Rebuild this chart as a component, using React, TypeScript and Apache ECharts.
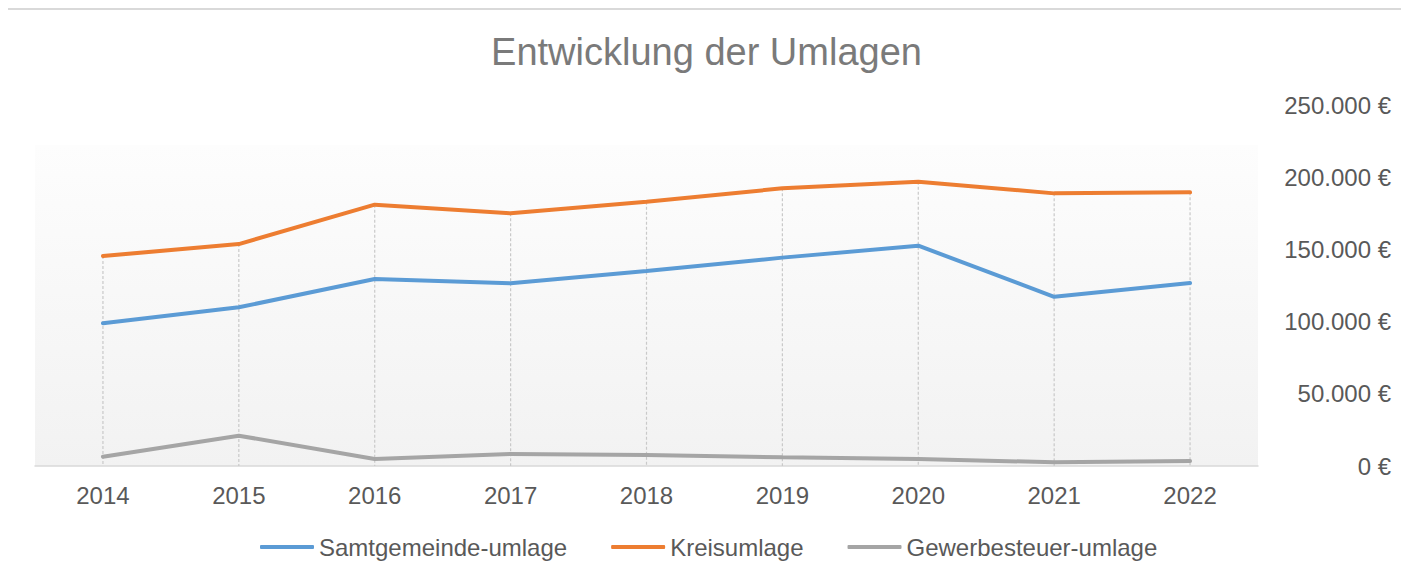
import React, { useEffect, useRef } from "react";
import * as echarts from "echarts";

const years = ["2014", "2015", "2016", "2017", "2018", "2019", "2020", "2021", "2022"];
const samtgemeinde = [98800, 109900, 129500, 126500, 135000, 144300, 152600, 117200, 126700];
const kreisumlage = [145400, 153700, 181000, 175000, 183000, 192300, 196900, 188800, 189500];
const gewerbesteuer = [6400, 21000, 4800, 8300, 7600, 6000, 4800, 2600, 3500];

const FONT = "'Liberation Sans', Arial, sans-serif";

function fmt(v: number): string {
  const s = String(Math.round(v)).replace(/\B(?=(\d{3})+(?!\d))/g, ".");
  return s + " €";
}

export default function App() {
  const ref = useRef<HTMLDivElement>(null);
  useEffect(() => {
    if (!ref.current) return;
    document.body.style.overflow = "hidden";
    const chart = echarts.init(ref.current, undefined, { renderer: "svg" });
    const dropData = years.map((_, i) => [
      i,
      Math.max(samtgemeinde[i], kreisumlage[i], gewerbesteuer[i]),
    ]);
    chart.setOption({
      animation: false,
      textStyle: { fontFamily: FONT },
      title: {
        text: "Entwicklung der Umlagen",
        left: "center",
        top: 18,
        textStyle: { fontFamily: FONT, fontSize: 38, fontWeight: "normal", color: "#7a7a7a" },
      },
      legend: {
        left: 247,
        top: 520,
        icon: "roundRect",
        itemWidth: 54,
        itemHeight: 4,
        itemGap: 44,
        textStyle: { fontFamily: FONT, fontSize: 24, color: "#595959" },
        data: ["Samtgemeinde-umlage", "Kreisumlage", "Gewerbesteuer-umlage"],
      },
      grid: {
        left: 27,
        width: 1223,
        top: 95,
        height: 361,
        show: true,
        borderWidth: 0,
        backgroundColor: new echarts.graphic.LinearGradient(0, 0, 0, 1, [
          { offset: 0, color: "#ffffff" },
          { offset: 0.11, color: "#ffffff" },
          { offset: 0.112, color: "#fdfdfd" },
          { offset: 1, color: "#f2f2f2" },
        ]),
      },
      xAxis: {
        type: "category",
        data: years,
        boundaryGap: true,
        axisLine: { show: true, lineStyle: { color: "#d9d9d9", width: 1.5 } },
        axisTick: { show: false },
        axisLabel: { fontFamily: FONT, fontSize: 24, color: "#595959", margin: 17 },
        splitLine: { show: false },
      },
      yAxis: {
        type: "value",
        position: "right",
        min: 0,
        max: 250000,
        interval: 50000,
        axisLine: { show: false },
        axisTick: { show: false },
        splitLine: { show: false },
        axisLabel: {
          fontFamily: FONT,
          fontSize: 24,
          color: "#595959",
          align: "right",
          margin: 133,
          formatter: (v: number) => fmt(v),
        },
      },
      series: [
        {
          type: "custom",
          name: "drop",
          z: 1,
          silent: true,
          data: dropData,
          renderItem: (params: any, api: any) => {
            const top = api.coord([api.value(0), api.value(1)]);
            const bottom = api.coord([api.value(0), 0]);
            return {
              type: "line",
              shape: { x1: top[0], y1: top[1], x2: bottom[0], y2: bottom[1] },
              style: { stroke: "#c9c9c9", lineWidth: 1.2, lineDash: [3, 2] },
            };
          },
        },
        {
          name: "Samtgemeinde-umlage",
          type: "line",
          data: samtgemeinde,
          showSymbol: false,
          z: 3,
          itemStyle: { color: "#5b9bd5" },
          lineStyle: { color: "#5b9bd5", width: 4, cap: "round" },
        },
        {
          name: "Kreisumlage",
          type: "line",
          data: kreisumlage,
          showSymbol: false,
          z: 3,
          itemStyle: { color: "#ed7d31" },
          lineStyle: { color: "#ed7d31", width: 4, cap: "round" },
        },
        {
          name: "Gewerbesteuer-umlage",
          type: "line",
          data: gewerbesteuer,
          showSymbol: false,
          z: 3,
          itemStyle: { color: "#a5a5a5" },
          lineStyle: { color: "#a5a5a5", width: 4, cap: "round" },
        },
      ],
    });
    return () => chart.dispose();
  }, []);

  return (
    <div
      style={{
        marginLeft: -2,
        width: 1401,
        height: 565,
        boxSizing: "border-box",
        borderTop: "2px solid #d9d9d9",
        borderLeft: "2px solid #d9d9d9",
        borderRight: "2px solid #d9d9d9",
        background: "#ffffff",
      }}
    >
      <div ref={ref} style={{ width: 1397, height: 563 }} />
    </div>
  );
}
